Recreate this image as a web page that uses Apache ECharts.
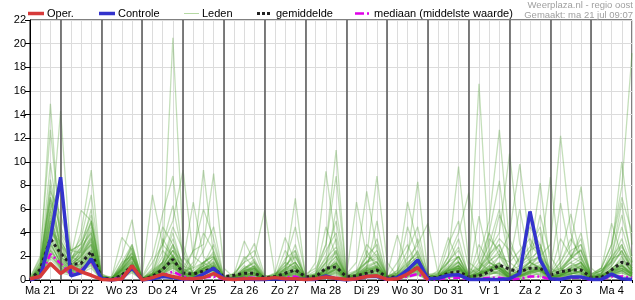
<!DOCTYPE html>
<html><head><meta charset="utf-8">
<script src="https://cdn.jsdelivr.net/npm/echarts@6/dist/echarts.min.js"></script>
<style>html,body{margin:0;padding:0;background:#fff}#c{width:635px;height:300px}</style>
</head><body><div id="c"></div>
<script>
// Day labels (placed at noon of each day); time axis in hours from Ma 21 00:00
const dayLabels = ['Ma 21','Di 22','Wo 23','Do 24','Vr 25','Za 26','Zo 27','Ma 28','Di 29','Wo 30','Do 31','Vr 1','Za 2','Zo 3','Ma 4'];
const hours = Array.from({length: 60}, (_, i) => 6 + 6 * i);
const dayStarts = dayLabels.slice(1).map((_, k) => 24 * (k + 1));

// Operational run (ends after 10 days)
const oper = [0.1,0.3,1.4, 0.55,1.15,0.7,0.4, 0.05,0,0.1,1.2, 0,0.2,0.5,0.3, 0.1,0.1,0.2,0.55, 0.1,0.05,0.1,0.1, 0.1,0.2,0.1,0.1, 0.05,0.1,0.25,0.15, 0.05,0.1,0.3,0.35, 0.05,0.1,0.5,1.05, 0];
// Control run
const controle = [0,0.3,3.5, 8.7,0.35,0.6,1.8, 0.1,0,0.1,1.05, 0,0.1,0.3,0.2, 0.05,0.1,0.5,1.0, 0.1,0.05,0.1,0.05, 0.05,0.1,0.05,0.1, 0.05,0.05,0.35,0.1, 0,0.1,0.3,0.3, 0.05,0.2,0.85,1.7, 0.1,0.15,0.4,0.45, 0.05,0.05,0.05,0.05, 0.1,0.55,5.8,1.7, 0.1,0.05,0.25,0.25, 0.05,0.05,0.5,0.1, 0.05];
// Ensemble mean
const gemiddelde = [0,0.9,3.5, 2.25,1.3,1.4,2.4, 0.2,0.05,0.4,1.2, 0.05,0.3,0.9,1.75, 0.6,0.5,0.75,1.0, 0.28,0.4,0.57,0.57, 0.2,0.28,0.57,0.85, 0.28,0.28,1.0,1.1, 0.28,0.35,0.57,0.85, 0.2,0.28,0.57,1.07, 0.22,0.22,0.57,0.7, 0.28,0.35,0.7,1.27, 0.9,0.7,1.0,1.0, 0.42,0.7,0.85,0.85, 0.22,0.22,0.85,1.5, 1.25];
// Ensemble median
const mediaan = [0,0.3,2.2, 1.4,0.5,0.8,1.6, 0.1,0,0.3,1.1, 0,0.1,0.4,0.7, 0.3,0.1,0.2,0.3, 0.05,0,0.2,0.2, 0,0.1,0.2,0.3, 0,0.05,0.3,0.2, 0,0.1,0.3,0.3, 0,0.1,0.3,0.5, 0.05,0.05,0.2,0.2, 0,0.1,0.2,0.2, 0.05,0.1,0.3,0.3, 0.05,0.1,0.2,0.2, 0,0.05,0.3,0.3, 0.2];
// Ensemble members
const leden = [
[0,0.3,2.5, 1.2,0.8,1.0,1.5, 0.2,0,0.5,1.0, 0.1,0.5,2.0,20.5, 3.0,0.5,0.2,0.4, 0,0,0.3,0.2, 0,0.1,0.4,0.6, 0.1,0,0.3,0.5, 0,0.2,0.5,0.3, 0,0.1,0.4,1.0, 0,0,0.2,0.3, 0,0.1,0.4,0.8, 0.2,0.1,0.3,0.6, 0,0.2,0.4,0.3, 0,0,0.5,1.2, 0.4],
[0.1,1.5,14.9, 3.0,1.2,2.0,3.0, 0.1,0,0.5,1.5, 0,0.3,1.0,2.0, 0.5,0.3,1.2,0.8, 0,0,0.5,1.0, 0,0.2,0.3,0.5, 0,0.1,0.6,1.5, 0.2,0.1,0.8,0.4, 0,0,0.7,1.2, 0,0.1,0.5,0.3, 0,0.2,0.6,1.0, 0.5,0.3,0.8,0.4, 0.1,0.2,0.5,0.8, 0,0.1,0.6,0.9, 0.5],
[0,0.8,4.0, 14.3,2.0,1.5,2.5, 0.2,0,1.0,2.0, 0,0.2,0.5,1.5, 0.3,0.5,0.8,1.2, 0,0.1,0.2,0.4, 0,0.3,0.5,0.8, 0.2,0.1,0.4,0.9, 0,0.3,0.6,0.5, 0.1,0.2,0.5,0.7, 0,0.2,0.8,1.0, 0.5,16.6,2.0,0.8, 0.2,0.5,1.0,0.7, 0,0.4,0.6,0.3, 0,0.2,0.4,0.6, 0.3],
[0.2,2.0,12.7, 4.0,2.5,3.0,5.0, 0.3,0,0.8,2.5, 0.1,0.8,1.5,3.0, 1.0,0.5,1.5,2.0, 0.2,0,0.8,1.2, 0.1,0.3,1.0,1.5, 0.3,0.5,3.0,11.0, 0.5,0.8,1.5,2.0, 0.2,0.1,0.8,1.5, 0.3,0.2,1.0,2.0, 0.1,0.5,1.2,0.8, 0.2,0.8,1.5,1.0, 0.3,0.5,0.8,1.2, 0.1,0.2,1.0,1.5, 0.8],
[0,1.2,9.9, 3.5,1.5,4.0,9.3, 0.5,0.1,1.5,3.0, 0,0.4,1.2,2.5, 0.8,0.3,0.5,1.0, 0,0.2,1.0,0.6, 0.1,0.2,0.6,1.2, 0,0.3,0.8,1.5, 0.1,0.5,1.0,0.8, 0,0.3,1.2,2.0, 0.1,0,0.5,1.2, 0.3,0.6,0.9,1.5, 0.4,0.2,0.6,1.0, 0.2,0.8,1.5,0.9, 0,0.1,0.7,1.0, 0.6],
[0,1.0,8.0, 2.5,1.0,2.5,4.0, 0.2,0.3,2.0,5.1, 0.1,0.2,0.8,1.5, 0.2,0.4,1.0,0.7, 0,0.1,0.3,0.5, 0,0.2,0.4,0.6, 0.1,0.2,0.5,0.8, 0,0.1,0.4,0.6, 0.1,0.2,0.6,0.9, 0.1,0.3,0.6,0.8, 0.2,0.4,1.0,1.2, 0.5,0.8,1.2,2.0, 3.0,12.2,4.0,1.5, 0.2,0.3,0.8,1.0, 0.5],
[0,0.5,5.0, 2.0,1.0,1.8,3.5, 0.1,0,0.6,1.8, 0.2,1.5,3.0,5.0, 9.3,2.0,1.3,3.0, 0.3,0.1,0.5,0.8, 0,0.2,0.5,0.3, 0.1,0.2,0.8,1.2, 0,0.1,0.5,0.7, 0,0.2,0.3,0.5, 0,0.1,0.3,0.6, 0.1,0.2,0.8,0.5, 0.1,0.3,0.5,0.8, 0.2,0.4,0.8,0.6, 0.1,0.2,0.5,0.8, 0.3],
[0.1,0.6,3.0, 1.5,0.8,1.0,2.0, 0,0,0.3,1.0, 0,0.3,0.5,1.0, 0.5,1.5,9.3,2.0, 0.1,0,0.4,0.6, 0.2,0.5,1.0,6.9, 0.3,0.5,1.5,2.5, 0.1,0.2,0.8,1.0, 0.1,0.3,0.5,1.5, 0,0.1,0.4,0.8, 0.2,0.6,1.5,0.9, 0.1,0.3,0.6,0.8, 0.2,0.5,1.0,0.6, 0,0.2,0.6,1.0, 0.4],
[0,0.4,2.5, 1.0,0.5,1.5,2.5, 0.1,0.1,0.8,1.2, 0,0.2,0.8,1.5, 1.0,2.5,3.0,9.0, 1.0,0.2,0.5,0.3, 0,0.1,0.2,0.4, 0.1,0.2,0.5,1.0, 0.2,0.5,2.0,8.8, 1.5,0.3,0.6,1.0, 0.1,0.2,0.5,0.7, 0.1,0.2,0.5,0.6, 0.2,0.2,0.4,0.5, 0.1,0.2,0.3,0.5, 0,0.1,0.3,0.6, 0.2],
[0,0.3,2.0, 1.2,0.6,0.8,1.8, 0.2,0,0.4,0.9, 0.5,7.2,3.0,2.0, 1.2,0.5,0.8,1.0, 0.3,0.5,1.5,2.0, 5.9,0.5,0.8,1.2, 0.1,0.2,0.6,1.0, 0.1,0.3,0.6,0.8, 0.1,0.2,0.5,0.8, 0.2,0.3,0.8,1.2, 0.1,0.4,0.8,1.0, 0.3,0.6,1.0,0.8, 0.2,0.5,1.0,1.5, 0.5,1.0,3.0,7.9, 19.2],
[0,0.7,6.0, 3.0,1.8,2.5,4.5, 0.3,0,0.8,2.0, 0.1,0.5,1.0,2.2, 0.5,0.3,0.9,1.5, 0,0.2,0.6,0.8, 0.1,0.3,0.6,1.0, 0.2,1.5,9.2,3.0, 0.2,0.4,1.0,1.2, 0.2,0.4,0.9,1.5, 0.3,0.5,2.0,9.6, 1.5,0.8,0.6,0.5, 0.2,0.4,0.7,0.9, 0.1,0.3,0.6,0.5, 0.1,0.2,0.5,0.8, 0.3],
[0,0.9,7.0, 2.8,1.2,2.0,3.5, 0.2,0.1,0.9,1.6, 0,0.3,0.9,1.8, 0.4,0.6,1.0,1.2, 0.1,0.2,0.8,1.0, 0.1,0.2,0.5,0.9, 0.2,0.3,1.0,2.0, 0.5,1.5,7.5,2.5, 0.3,0.6,2.0,8.3, 0.5,0.2,0.6,1.0, 0.2,0.4,0.9,1.2, 0.3,0.5,0.9,1.1, 0.2,0.4,0.8,1.0, 0.1,0.3,0.7,1.2, 0.6],
[0.1,0.5,3.5, 1.8,0.9,1.2,2.2, 0.1,0,0.5,1.1, 0.1,0.4,0.7,1.2, 0.3,0.2,0.6,0.9, 0,0.1,0.4,0.7, 0,0.1,0.3,0.6, 0.1,0.2,0.6,1.0, 0.1,0.2,0.6,0.9, 0.1,0.2,0.5,0.8, 0.2,0.3,0.8,1.5, 0.5,2.0,5.0,12.7, 3.0,1.5,2.0,8.2, 1.0,0.5,0.8,0.6, 0.1,0.2,0.4,0.7, 0.3],
[0,1.1,5.5, 2.2,1.4,2.2,3.0, 0.2,0,0.7,1.4, 0,0.3,0.8,1.6, 0.6,0.4,0.7,1.1, 0.1,0.1,0.5,0.6, 0,0.2,0.4,0.8, 0.1,0.3,0.7,1.2, 0.2,0.3,0.7,1.0, 0.1,0.3,0.6,1.0, 0.1,0.2,0.7,1.0, 0.3,0.8,2.5,4.0, 10.7,3.0,1.5,1.0, 0.5,1.5,3.0,7.9, 1.0,0.3,0.8,1.2, 0.5],
[0,0.2,1.5, 0.8,0.5,0.8,1.2, 0,0,0.3,0.7, 0,0.2,0.4,0.8, 0.2,0.1,0.3,0.5, 0,0,0.2,0.4, 0,0.1,0.2,0.3, 0,0.1,0.3,0.6, 0,0.1,0.3,0.5, 0,0.1,0.3,0.6, 0,0.1,0.3,0.6, 0.1,0.3,0.8,2.0, 4.0,9.8,3.0,2.0, 8.7,1.0,0.6,0.5, 0.2,0.5,2.5,10.0, 3.0],
[0,0.6,4.5, 1.6,1.0,1.6,2.8, 0.1,0.1,0.6,1.3, 0.1,0.3,0.6,1.4, 0.4,0.3,0.5,0.8, 0.1,0.2,0.5,0.6, 0,0.1,0.4,0.7, 0.1,0.2,0.5,0.9, 0.3,6.6,2.0,1.5, 0.2,0.8,6.6,3.0, 4.8,0.5,0.8,1.0, 0.2,0.3,0.6,0.8, 0.2,0.3,0.6,0.8, 0.1,0.3,0.5,0.7, 0.1,0.2,0.5,0.9, 0.4],
[0,0.9,6.5, 2.5,1.6,2.8,4.0, 0.3,0.2,3.6,2.5, 0.1,0.5,1.0,2.0, 0.5,0.4,0.9,1.3, 0.1,0.2,0.6,0.9, 0.2,0.6,3.6,1.5, 0.2,0.4,1.0,1.6, 0.2,0.4,0.9,1.1, 0.2,0.4,0.8,1.2, 0.2,0.3,0.9,1.3, 0.4,5.4,1.5,1.0, 0.3,0.6,1.0,1.2, 0.3,0.6,1.2,1.4, 0.2,0.4,1.0,1.6, 0.8],
[0,1.3,4.2, 3.2,2.0,5.9,5.0, 0.4,0.1,1.2,2.2, 0.1,0.4,0.9,1.7, 0.5,0.5,0.8,1.0, 0,0.3,0.7,1.1, 0.1,0.2,0.5,0.8, 0.1,0.2,0.8,1.3, 0.1,0.3,0.8,1.2, 0.1,0.3,0.7,1.1, 0.1,0.3,0.7,1.1, 0.2,0.5,0.9,1.3, 0.4,0.7,1.1,1.5, 0.6,2.0,5.6,1.8, 0.3,0.4,0.9,1.3, 0.6],
[0,0.4,3.2, 1.4,0.9,1.3,2.0, 0.1,0,0.5,1.0, 0.3,2.0,5.6,8.8, 2.0,1.0,1.5,0.8, 0.2,0.1,0.3,0.5, 0,0.1,0.3,0.5, 0.1,0.2,0.4,0.7, 0.1,0.2,0.5,0.7, 0.1,0.2,0.4,0.7, 0.1,0.2,0.4,0.7, 0.1,0.2,0.5,0.7, 0.2,0.4,0.6,0.8, 0.1,0.3,0.5,0.7, 0.1,0.2,0.4,0.8, 0.3],
[0,0.7,5.8, 2.0,1.3,1.9,3.2, 0.2,0.1,0.8,1.5, 0.1,0.4,1.2,2.5, 1.5,6.6,2.0,1.0, 0.3,0.5,3.3,1.5, 0.1,0.2,0.6,1.0, 0.2,0.3,0.8,1.2, 0.2,0.3,0.7,1.0, 0.1,0.3,0.7,1.2, 0.2,0.8,3.6,1.5, 0.3,0.5,0.9,1.1, 0.2,0.5,0.8,1.0, 0.2,0.4,0.8,1.1, 0.1,0.3,0.6,1.0, 0.5],
[0,1.0,3.8, 1.9,1.1,1.7,2.6, 0.2,0.1,0.7,1.3, 0.1,0.3,0.8,1.6, 0.4,0.4,0.7,1.0, 0.1,0.6,1.5,3.1, 0.4,0.2,0.5,0.8, 0.1,0.3,0.7,1.1, 0.1,0.3,0.6,0.9, 0.5,3.8,1.0,1.5, 0.1,0.2,0.6,0.9, 0.2,0.4,0.8,1.0, 0.2,0.4,0.7,0.9, 0.2,0.4,0.7,1.0, 0.5,1.0,4.8,2.0, 0.6],
[0.2,1.8,7.0, 4.5,2.2,3.5,7.2, 0.5,0.2,1.0,3.0, 0.1,0.6,1.5,3.5, 1.2,0.8,1.5,2.2, 0.3,0.2,1.0,1.4, 0.1,0.4,1.2,2.0, 0.3,0.6,1.8,2.8, 0.3,0.7,1.6,2.2, 0.3,0.6,1.4,2.4, 0.3,0.4,1.2,2.0, 0.5,0.9,1.6,2.2, 0.6,1.0,1.6,2.0, 0.4,0.8,1.5,2.0, 0.3,0.5,1.2,2.4, 1.0],
[0,0.8,8.5, 3.8,1.9,2.7,6.0, 0.3,0.1,1.1,2.7, 0.1,0.5,1.4,2.8, 0.9,0.6,1.2,1.8, 0.2,0.2,0.7,1.0, 0.1,0.3,0.8,1.3, 0.2,0.4,1.2,2.0, 0.2,0.5,1.1,1.5, 0.2,0.5,1.0,1.8, 0.2,0.3,0.9,1.5, 0.3,1.5,4.0,8.4, 1.5,0.8,1.2,1.6, 0.3,0.6,1.1,1.5, 0.2,0.4,0.9,1.8, 0.7],
[0,0.5,2.8, 1.1,0.7,1.1,1.9, 0.1,0,0.4,0.9, 0,0.2,0.6,1.1, 0.3,0.2,0.5,0.7, 0,0.1,0.3,0.5, 0,0.1,0.3,0.5, 0.1,0.2,0.4,0.7, 0.1,0.2,0.4,0.6, 0.1,0.2,0.4,0.6, 0.2,0.5,2.0,4.0, 7.4,1.5,0.8,0.6, 0.2,0.3,0.5,0.7, 0.1,0.3,0.5,0.8, 0.2,0.5,2.0,6.5, 1.5],
[0,0.6,4.8, 1.7,1.2,2.0,3.8, 0.2,0.1,0.9,1.9, 0.1,0.3,1.0,1.9, 0.6,0.4,0.8,1.2, 0.1,0.2,0.6,0.9, 0.1,0.3,1.5,4.5, 0.5,1.0,3.0,8.8, 0.5,0.3,0.8,1.1, 0.2,0.3,0.8,1.3, 0.1,0.2,0.6,1.0, 0.2,0.5,0.9,1.2, 0.2,0.4,0.8,1.0, 0.2,0.4,0.8,1.2, 0.1,0.3,0.7,1.2, 0.5],
[0,0.2,1.2, 0.6,0.4,0.6,1.0, 0,0,0.2,0.6, 0,0.1,0.3,0.6, 0.1,0.1,0.2,0.4, 0,0,0.1,0.2, 0,0,0.1,0.2, 0,0,0.2,0.4, 0,0.1,0.2,0.3, 0,0.1,0.2,0.4, 0,0,0.2,0.3, 0,0.1,0.2,0.4, 0.1,0.1,0.2,0.3, 0,0.1,0.2,0.3, 0,0.1,0.2,0.4, 0.1],
[0,1.4,6.0, 8.0,2.5,2.3,3.3, 0.3,0.1,1.3,2.3, 0.1,0.4,1.1,2.1, 0.7,0.5,1.0,1.4, 0.1,0.2,0.8,1.2, 0.1,0.3,0.7,1.1, 0.2,0.3,0.9,1.4, 0.2,0.4,0.9,1.3, 0.2,0.4,0.9,1.4, 0.2,0.3,0.8,1.2, 0.2,0.5,1.1,1.4, 0.3,0.6,1.0,1.3, 0.3,0.5,1.0,1.3, 0.2,0.4,0.8,1.4, 0.6],
[0,0.9,5.2, 2.4,1.5,2.1,5.0, 0.3,0.1,0.9,2.0, 0.1,0.4,1.0,2.0, 0.6,0.5,1.0,1.3, 0.1,0.2,0.7,1.0, 0.1,0.3,0.6,1.0, 0.2,0.3,0.9,1.4, 0.2,0.4,0.8,1.1, 0.2,0.3,0.8,1.3, 0.2,0.3,0.8,1.2, 0.3,0.6,1.0,1.4, 0.4,0.8,1.5,2.0, 1.0,6.5,2.0,3.0, 0.5,0.8,1.5,4.5, 1.5],
[0,0.3,2.2, 1.0,0.6,0.9,1.5, 0.1,0,0.4,0.8, 0,0.2,0.5,1.0, 0.2,0.2,0.4,0.6, 0,0.1,0.2,0.4, 0,0.1,0.2,0.4, 0,0.1,0.3,0.6, 0.1,0.1,0.3,0.5, 0,0.1,0.3,0.5, 0.1,0.1,0.4,0.6, 0.2,0.8,4.0,2.0, 1.5,6.0,1.5,1.0, 0.3,0.4,0.6,0.8, 0.1,0.2,0.5,0.8, 0.3],
[0,0.7,3.6, 1.6,1.0,1.4,2.4, 0.1,0,0.6,1.2, 0.1,0.8,3.0,6.3, 2.0,0.5,0.7,1.0, 0.1,0.1,0.4,0.6, 0,0.1,0.4,0.7, 0.1,0.2,0.5,0.9, 0.1,0.2,0.6,0.8, 0.1,0.2,0.5,0.9, 0.1,0.2,0.6,0.9, 0.2,0.4,0.8,1.0, 0.2,0.4,0.7,0.9, 0.2,0.4,0.8,1.5, 0.3,1.0,3.0,7.0, 4.0],
[0,0.6,3.0, 1.5,0.9,1.4,2.2, 0.1,0,0.5,1.0, 0,0.3,1.5,4.0, 1.0,0.3,0.6,1.2, 0,0.1,0.3,0.4, 0,0.2,1.0,2.5, 0.1,0.2,0.6,1.8, 0.2,0.3,2.5,1.0, 0.1,0.2,1.0,3.5, 0.5,0.2,1.5,2.8, 0.3,1.0,2.0,3.5, 2.5,1.0,2.5,4.0, 0.5,1.5,3.5,2.0, 0.2,0.5,1.5,3.0, 1.0],
[0,1.0,5.0, 2.0,1.1,1.7,3.0, 0.2,0.1,1.5,2.0, 0.1,0.6,2.5,1.5, 0.8,1.0,2.5,4.5, 0.2,0.3,1.2,0.8, 0.1,0.2,0.8,3.0, 0.2,0.5,4.5,2.0, 0.1,0.4,1.2,3.5, 0.2,1.5,3.0,1.0, 0.1,0.3,1.0,2.0, 0.2,3.0,1.5,1.0, 0.5,2.0,4.5,3.0, 0.4,0.8,2.0,3.5, 0.2,0.4,1.2,2.5, 0.8],
[0,0.4,2.0, 1.0,0.6,0.9,1.4, 0,0,0.3,0.8, 0.1,0.4,3.5,2.0, 0.5,1.2,4.0,2.5, 0.1,0.2,2.0,1.0, 0.1,0.5,1.5,1.0, 0.1,0.3,1.0,6.0, 0.5,0.3,1.0,1.5, 0.1,0.4,1.2,2.0, 0.1,0.3,3.0,5.0, 1.0,0.5,1.5,2.5, 1.0,0.6,1.2,2.2, 0.2,0.7,1.8,4.0, 0.3,0.6,1.6,3.5, 1.2],
[0,0.8,4.0, 3.0,1.6,2.6,4.2, 0.2,0.1,0.9,1.8, 0.1,1.0,4.5,3.0, 1.5,0.6,1.2,1.6, 0.2,0.4,1.8,2.5, 0.1,0.4,0.9,1.5, 0.3,0.8,2.5,4.0, 0.3,0.8,3.0,2.0, 0.3,0.8,2.5,4.5, 0.3,0.6,1.5,2.0, 0.4,1.2,3.0,6.0, 1.5,2.5,3.5,2.0, 0.5,1.2,2.5,3.0, 0.4,0.8,2.0,5.5, 2.0],
[0,0.5,3.3, 1.3,0.8,1.2,2.1, 0.1,0,0.5,1.4, 0,0.3,0.8,1.8, 0.5,2.5,6.0,3.5, 0.2,0.2,0.8,1.6, 0.4,0.3,1.8,2.5, 0.2,0.3,0.9,1.4, 0.2,0.5,1.5,2.5, 0.2,0.4,1.8,3.0, 0.2,0.5,1.5,3.5, 0.3,0.6,3.5,2.5, 0.6,1.8,2.8,4.5, 0.5,3.5,2.0,1.5, 0.2,0.6,2.0,3.0, 0.8],
[0,1.2,7.5, 5.5,2.5,3.0,4.8, 0.4,0.1,1.2,2.8, 0.2,0.6,1.5,4.5, 2.5,0.5,1.0,1.5, 0.1,0.2,0.6,1.2, 0.1,0.2,0.6,2.0, 0.2,0.4,1.5,3.5, 0.2,0.6,1.5,1.8, 0.2,0.5,1.3,2.5, 0.2,0.4,1.0,1.5, 0.3,0.8,2.0,5.5, 3.5,1.2,1.8,2.5, 0.5,1.0,2.0,2.5, 0.3,0.6,1.4,2.5, 1.0],
[0,0.3,1.8, 0.9,0.5,0.8,1.3, 0.1,0,0.3,0.8, 0,0.2,0.5,1.2, 0.3,0.3,1.5,2.0, 0.1,0.1,0.4,0.6, 0,0.2,2.5,1.2, 0.1,0.2,0.8,2.5, 0.1,0.2,0.9,5.0, 0.4,0.3,0.8,1.5, 0.1,0.2,0.7,1.2, 0.2,0.5,1.8,3.0, 0.8,0.5,1.5,5.5, 2.0,0.6,1.2,1.8, 0.2,0.4,0.8,2.0, 0.6],
[0,0.7,4.6, 2.3,1.4,2.4,3.6, 0.2,0.1,0.8,1.6, 0.1,0.4,1.0,3.0, 0.6,0.4,0.9,1.9, 0.1,0.3,0.9,1.8, 0.1,0.3,0.9,1.5, 0.2,0.5,2.0,5.0, 0.3,0.5,1.2,1.6, 0.2,0.5,4.5,2.0, 0.2,0.4,1.1,1.6, 0.3,0.6,1.2,2.0, 0.5,0.8,1.5,2.8, 0.4,0.9,1.8,2.5, 0.3,0.8,1.8,2.2, 0.9],
[0,1.6,6.8, 3.3,1.7,3.2,5.5, 0.3,0.1,1.0,2.3, 0.1,0.5,1.3,2.5, 0.8,0.6,1.3,2.4, 0.2,0.3,1.0,1.5, 0.2,0.5,1.2,2.2, 0.2,0.4,1.4,2.3, 0.3,0.7,2.0,3.0, 0.3,0.6,1.5,2.2, 0.5,0.6,1.6,2.5, 0.6,1.0,2.2,3.0, 0.8,1.2,2.5,3.0, 0.6,1.0,1.8,2.6, 0.4,0.8,1.6,2.8, 1.4],
[0,0.4,2.6, 1.3,0.7,1.0,1.7, 0.1,0,0.5,1.0, 0.1,0.3,0.7,1.3, 0.3,0.3,0.6,1.0, 0,0.1,0.4,0.7, 0,0.2,0.4,0.8, 0.1,0.2,0.5,0.9, 0.1,0.2,0.6,0.8, 0.1,0.2,0.5,0.9, 0.1,0.2,0.6,0.9, 0.2,0.4,0.8,1.0, 0.2,0.4,0.7,1.0, 0.2,0.4,0.8,1.2, 0.2,0.3,0.8,1.3, 0.4]
];
const yMax = 22, yStep = 2;

const FONT = '"Liberation Sans", Arial, sans-serif';
const pts = arr => arr.map((v, i) => [hours[i], v]);
const series = [];
leden.forEach((m, k) => {
  const s = {type: 'line', data: pts(m), showSymbol: false, silent: true, z: 2,
    emphasis: {disabled: true},
    lineStyle: {color: 'rgba(70,155,40,0.32)', width: 1.3}};
  if (k === 0) {
    s.markLine = {silent: true, symbol: 'none', label: {show: false}, animation: false,
      lineStyle: {color: '#555', width: 1.5, type: 'solid'},
      data: dayStarts.map(h => ({xAxis: h}))};
  }
  series.push(s);
});
series.push({type: 'line', data: pts(mediaan), showSymbol: false, silent: true, z: 3, emphasis: {disabled: true},
  lineStyle: {color: '#e000e8', width: 2.5, type: [7, 3, 2, 3]}});
series.push({type: 'line', data: pts(gemiddelde), showSymbol: false, silent: true, z: 4, emphasis: {disabled: true},
  lineStyle: {color: '#222', width: 3, type: [3, 3]}});
series.push({type: 'line', data: pts(controle), showSymbol: false, silent: true, z: 5, emphasis: {disabled: true},
  lineStyle: {color: '#3333cc', width: 3.5}});
series.push({type: 'line', data: pts(oper), showSymbol: false, silent: true, z: 6, emphasis: {disabled: true},
  lineStyle: {color: '#d63a3a', width: 3.5}});

const legendItems = [
  {x: 28, w: 16, text: 'Oper.', tx: 47, style: {stroke: '#d63a3a', lineWidth: 3.5}},
  {x: 99, w: 16, text: 'Controle', tx: 118, style: {stroke: '#3333cc', lineWidth: 3.5}},
  {x: 184, w: 15, text: 'Leden', tx: 202, style: {stroke: '#b5d9a3', lineWidth: 1}},
  {x: 257, w: 15, text: 'gemiddelde', tx: 276, style: {stroke: '#222', lineWidth: 3, lineDash: [3, 2]}},
  {x: 355, w: 14, text: 'mediaan (middelste waarde)', tx: 374, style: {stroke: '#e000e8', lineWidth: 2.5, lineDash: [9, 3, 2, 3]}}
];
const graphic = [];
legendItems.forEach(it => {
  graphic.push({type: 'line', shape: {x1: it.x, y1: 13.5, x2: it.x + it.w, y2: 13.5}, style: it.style, silent: true});
  graphic.push({type: 'text', x: it.tx, y: 13.5, style: {text: it.text, font: '11px ' + FONT, fill: '#000', textVerticalAlign: 'middle'}, silent: true});
});
graphic.push({type: 'text', right: 2, top: 0, style: {text: 'Weerplaza.nl - regio oost', font: '9.5px ' + FONT, fill: '#a0a0a0', textAlign: 'right'}, silent: true});
graphic.push({type: 'text', right: 2, top: 10, style: {text: 'Gemaakt: ma 21 jul 09:07', font: '9.5px ' + FONT, fill: '#a0a0a0', textAlign: 'right'}, silent: true});

const chart = echarts.init(document.getElementById('c'), null, {renderer: 'canvas'});
chart.setOption({
  animation: false,
  backgroundColor: '#fff',
  grid: {left: 30, right: 1, top: 20, bottom: 20, show: true, borderColor: '#000', borderWidth: 1, backgroundColor: 'transparent'},
  xAxis: {type: 'value', min: 6, max: 360, interval: 6,
    axisLine: {show: true, lineStyle: {color: '#000', width: 1}},
    axisTick: {show: true, length: 3, lineStyle: {color: '#000'}},
    splitLine: {show: true, lineStyle: {color: '#dcdcdc', width: 1}},
    axisLabel: {show: true, margin: 5, color: '#000', fontSize: 11, fontFamily: FONT, showMinLabel: true, showMaxLabel: true,
      formatter: v => (v % 24 === 12 ? dayLabels[(v - 12) / 24] : '')}},
  yAxis: {type: 'value', min: 0, max: yMax, interval: yStep,
    axisLine: {show: true, lineStyle: {color: '#000', width: 1}},
    axisTick: {show: true, length: 5, lineStyle: {color: '#000'}},
    splitLine: {show: true, lineStyle: {color: '#dcdcdc', width: 1}},
    axisLabel: {color: '#000', fontSize: 11, fontFamily: FONT, margin: 4}},
  graphic: graphic,
  series: series
});
</script></body></html>
